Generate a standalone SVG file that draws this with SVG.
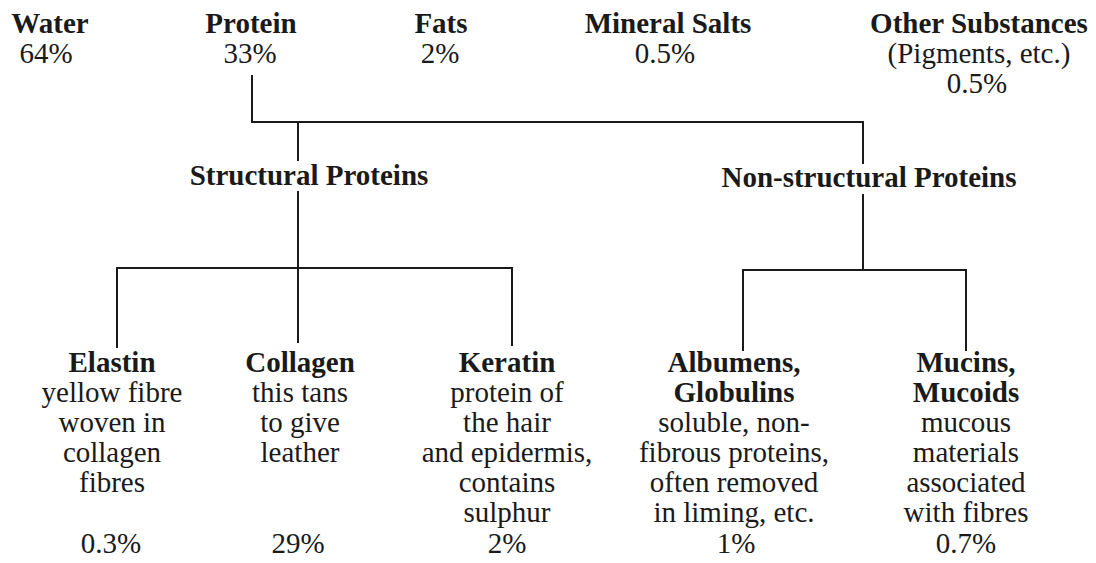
<svg xmlns="http://www.w3.org/2000/svg" width="1096" height="563" viewBox="0 0 1096 563">
<style>
text{font-family:"Liberation Serif","Times New Roman",serif;font-size:29px;fill:#1a1a1a;text-anchor:middle}
.b{font-weight:bold}
.ln{stroke:#1a1a1a;stroke-width:2;fill:none;stroke-linecap:square}
</style>
<rect width="1096" height="563" fill="#ffffff"/>
<g id="connectors" class="ln">
<path d="M252 76V122H863V163"/>
<path d="M298 122V160"/>
<path d="M298 192V268"/>
<path d="M117 347V268H512V345"/>
<path d="M298 268V342"/>
<path d="M863 195V270"/>
<path d="M743 350V270H966V350"/>
</g>
<g id="water"><text class="b" x="50" y="33">Water</text><text x="46" y="63">64%</text></g>
<g id="protein"><text class="b" x="251" y="33">Protein</text><text x="250" y="63">33%</text></g>
<g id="fats"><text class="b" x="441" y="33">Fats</text><text x="440" y="63">2%</text></g>
<g id="mineral"><text class="b" x="668" y="33">Mineral Salts</text><text x="665" y="63">0.5%</text></g>
<g id="other"><text class="b" x="979" y="33">Other Substances</text><text x="979" y="63">(Pigments, etc.)</text><text x="977" y="93">0.5%</text></g>
<g id="structural"><text class="b" x="309" y="185">Structural Proteins</text></g>
<g id="nonstructural"><text class="b" x="869" y="187">Non-structural Proteins</text></g>
<g id="elastin"><text class="b" x="112" y="372">Elastin</text><text x="112" y="402">yellow fibre</text><text x="112" y="432">woven in</text><text x="112" y="462">collagen</text><text x="112" y="492">fibres</text><text x="111" y="553">0.3%</text></g>
<g id="collagen"><text class="b" x="300" y="372">Collagen</text><text x="300" y="402">this tans</text><text x="300" y="432">to give</text><text x="300" y="462">leather</text><text x="298" y="553">29%</text></g>
<g id="keratin"><text class="b" x="507" y="372">Keratin</text><text x="507" y="402">protein of</text><text x="507" y="432">the hair</text><text x="507" y="462">and epidermis,</text><text x="507" y="492">contains</text><text x="507" y="522">sulphur</text><text x="507" y="553">2%</text></g>
<g id="albumens"><text class="b" x="734" y="372">Albumens,</text><text class="b" x="734" y="402">Globulins</text><text x="734" y="432">soluble, non-</text><text x="734" y="462">fibrous proteins,</text><text x="734" y="492">often removed</text><text x="734" y="522">in liming, etc.</text><text x="736" y="553">1%</text></g>
<g id="mucins"><text class="b" x="966" y="372">Mucins,</text><text class="b" x="966" y="402">Mucoids</text><text x="966" y="432">mucous</text><text x="966" y="462">materials</text><text x="966" y="492">associated</text><text x="966" y="522">with fibres</text><text x="966" y="553">0.7%</text></g>
</svg>
